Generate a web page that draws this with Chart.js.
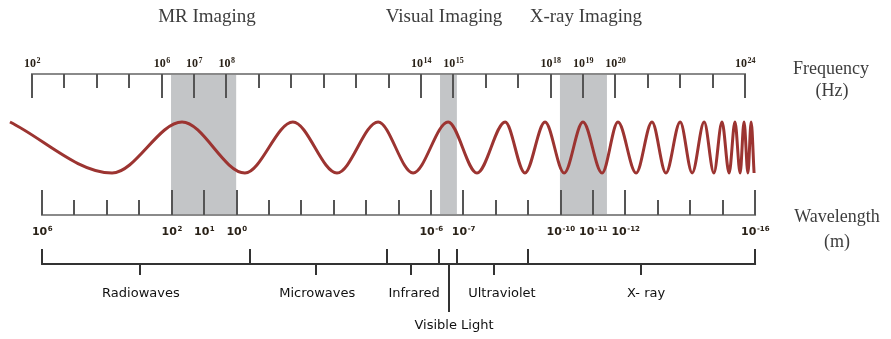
<!DOCTYPE html>
<html><head><meta charset="utf-8">
<script src="https://cdn.jsdelivr.net/npm/chart.js@4.4.1/dist/chart.umd.min.js"></script>
<style>html,body{margin:0;padding:0;background:#fff;}#wrap{width:891px;height:339px;}</style>
</head><body><div id="wrap"><canvas id="c" width="891" height="339"></canvas></div>
<script>
// ---- data ----
// wave extrema: position in log10(frequency / Hz), amplitude (+1 crest, -1 trough)
const waveX = [1.32,4.47,6.63,8.57,10.05,11.41,12.68,13.76,14.84,15.73,16.60,17.21,17.83,18.42,19.00,19.59,20.08,20.64,21.13,21.56,22.00,22.37,22.74,23.04,23.29,23.51,23.69,23.85,23.97,24.09,24.19,24.28];
const waveY = [1,-1,1,-1,1,-1,1,-1,1,-1,1,-1,1,-1,1,-1,1,-1,1,-1,1,-1,1,-1,1,-1,1,-1,1,-1,1,-1];
// frequency axis (exponents of 10, Hz)
const freqTickExp = [2,3,4,5,6,7,8,9,10,11,12,13,14,15,16,17,18,19,20,21,22,23,24];
const freqLabelExp = [2,6,7,8,14,15,18,19,20,24];
// wavelength axis (exponents of 10, m)
const wlTickExp = [6,5,4,3,2,1,0,-1,-2,-3,-4,-5,-6,-7,-8,-9,-10,-11,-12,-13,-14,-15,-16];
const wlLabelExp = [6,2,1,0,-6,-7,-10,-11,-12,-16];
// imaging windows (log10 Hz)
const imagingNames = ['MR Imaging','Visual Imaging','X-ray Imaging'];
const imagingFrom = [6.29,14.59,18.29];
const imagingTo = [8.30,15.11,19.74];
const imagingLabelAt = [7.40,14.71,19.09];
// spectrum regions (log10 m)
const regionBounds = [6,-0.42,-4.65,-6.25,-6.80,-9.00,-16];
const regionNames = ['Radiowaves','Microwaves','Infrared','Ultraviolet','X- ray'];
const regionMarks = [2.98,-2.45,-5.39,-7.95,-12.48];
const regionLabelAt = [2.95,-2.49,-5.48,-8.19,-12.64];
const visibleName = 'Visible Light';
const visibleAt = -6.56;
// the drawing places wavelength 10^w under frequency 10^(WL_SHIFT - w)
const WL_SHIFT = 8.31;

// ---- layout ----
const PX_PER_DEC = 713/22;
const X_MIN = 2 - 32/PX_PER_DEC;
const X_MAX = 2 + (891-32)/PX_PER_DEC;
const Y_MAX = 147.5/25.5;
const Y_MIN = -(339-147.5)/25.5;

function drawPow(ctx, exp, x, y, baseFont, expFont) {
  ctx.font = baseFont;
  const wb = ctx.measureText('10').width;
  ctx.font = expFont;
  const we = ctx.measureText(String(exp)).width;
  const left = x - (wb + we)/2;
  ctx.textAlign = 'left';
  ctx.textBaseline = 'middle';
  ctx.font = baseFont;
  ctx.fillText('10', left, y);
  ctx.font = expFont;
  ctx.fillText(String(exp), left + wb + 0.5, y - 3);
}

const diagram = {
  id: 'diagram',
  beforeDatasetsDraw(chart) {
    const ctx = chart.ctx;
    const xs = chart.scales.x;
    const px = v => xs.getPixelForValue(v);
    const wx = w => px(WL_SHIFT - w);
    ctx.save();
    // imaging bands
    ctx.fillStyle = '#c3c5c7';
    for (let i = 0; i < imagingFrom.length; i++) {
      const a = px(imagingFrom[i]), b = px(imagingTo[i]);
      ctx.fillRect(a, 74, b - a, 215 - 74);
    }
    // frequency axis
    ctx.lineCap = 'butt';
    ctx.strokeStyle = '#8a8a8a';
    ctx.lineWidth = 2;
    ctx.beginPath(); ctx.moveTo(px(2) - 1, 74); ctx.lineTo(px(24) + 1, 74); ctx.stroke();
    ctx.strokeStyle = '#555';
    freqTickExp.forEach(e => {
      const long = freqLabelExp.includes(e);
      const x = Math.round(px(e));
      ctx.beginPath(); ctx.moveTo(x, 74); ctx.lineTo(x, long ? 98 : 88); ctx.stroke();
    });
    // wavelength axis
    ctx.strokeStyle = '#8a8a8a';
    ctx.beginPath(); ctx.moveTo(wx(6) - 1, 215); ctx.lineTo(wx(-16) + 1, 215); ctx.stroke();
    ctx.strokeStyle = '#555';
    wlTickExp.forEach(w => {
      const long = wlLabelExp.includes(w);
      const x = Math.round(wx(w));
      ctx.beginPath(); ctx.moveTo(x, 215); ctx.lineTo(x, long ? 190 : 200); ctx.stroke();
    });
    // region bracket
    ctx.strokeStyle = '#333';
    ctx.beginPath(); ctx.moveTo(wx(6) - 1, 264); ctx.lineTo(wx(-16) + 1, 264); ctx.stroke();
    regionBounds.forEach(w => {
      const x = Math.round(wx(w));
      ctx.beginPath(); ctx.moveTo(x, 264); ctx.lineTo(x, 249); ctx.stroke();
    });
    regionMarks.forEach(w => {
      const x = Math.round(wx(w));
      ctx.beginPath(); ctx.moveTo(x, 264); ctx.lineTo(x, 275); ctx.stroke();
    });
    const vx = Math.round(wx(visibleAt));
    ctx.beginPath(); ctx.moveTo(vx, 264); ctx.lineTo(vx, 312); ctx.stroke();
    ctx.restore();
  },
  afterDatasetsDraw(chart) {
    const ctx = chart.ctx;
    const xs = chart.scales.x;
    const px = v => xs.getPixelForValue(v);
    const wx = w => px(WL_SHIFT - w);
    ctx.save();
    // tick labels
    ctx.fillStyle = '#2a2218';
    freqLabelExp.forEach(e => drawPow(ctx, e, px(e), 64, 'bold 12px "Liberation Serif"', 'bold 8px "Liberation Serif"'));
    wlLabelExp.forEach(w => drawPow(ctx, w < 0 ? '-' + (-w) : w, wx(w), 232, 'bold 11px "DejaVu Sans"', 'bold 7px "DejaVu Sans"'));
    // imaging titles
    ctx.fillStyle = '#3d3d3d';
    ctx.textAlign = 'center';
    ctx.textBaseline = 'middle';
    ctx.font = '19px "Liberation Serif"';
    imagingNames.forEach((n, i) => ctx.fillText(n, px(imagingLabelAt[i]), 17));
    // axis titles
    ctx.font = '18px "Liberation Serif"';
    ctx.fillText('Frequency', 831, 69);
    ctx.fillText('(Hz)', 832, 91);
    ctx.fillText('Wavelength', 837, 217);
    ctx.fillText('(m)', 837, 242);
    // region names
    ctx.fillStyle = '#111';
    ctx.font = '13px "DejaVu Sans"';
    regionNames.forEach((n, i) => ctx.fillText(n, wx(regionLabelAt[i]), 294));
    ctx.fillText(visibleName, Math.round(wx(visibleAt)) + 5, 326);
    ctx.restore();
  }
};

new Chart(document.getElementById('c'), {
  type: 'line',
  data: {
    datasets: [{
      data: waveX.map((x, i) => ({x, y: waveY[i]})),
      borderColor: '#9c3431',
      borderWidth: 3,
      pointRadius: 0,
      cubicInterpolationMode: 'monotone',
      fill: false
    }]
  },
  options: {
    responsive: false,
    animation: false,
    devicePixelRatio: 1,
    layout: { padding: 0 },
    events: [],
    scales: {
      x: { type: 'linear', min: X_MIN, max: X_MAX, display: false },
      y: { type: 'linear', min: Y_MIN, max: Y_MAX, display: false }
    },
    plugins: { legend: { display: false }, tooltip: { enabled: false } }
  },
  plugins: [diagram]
});
</script></body></html>
